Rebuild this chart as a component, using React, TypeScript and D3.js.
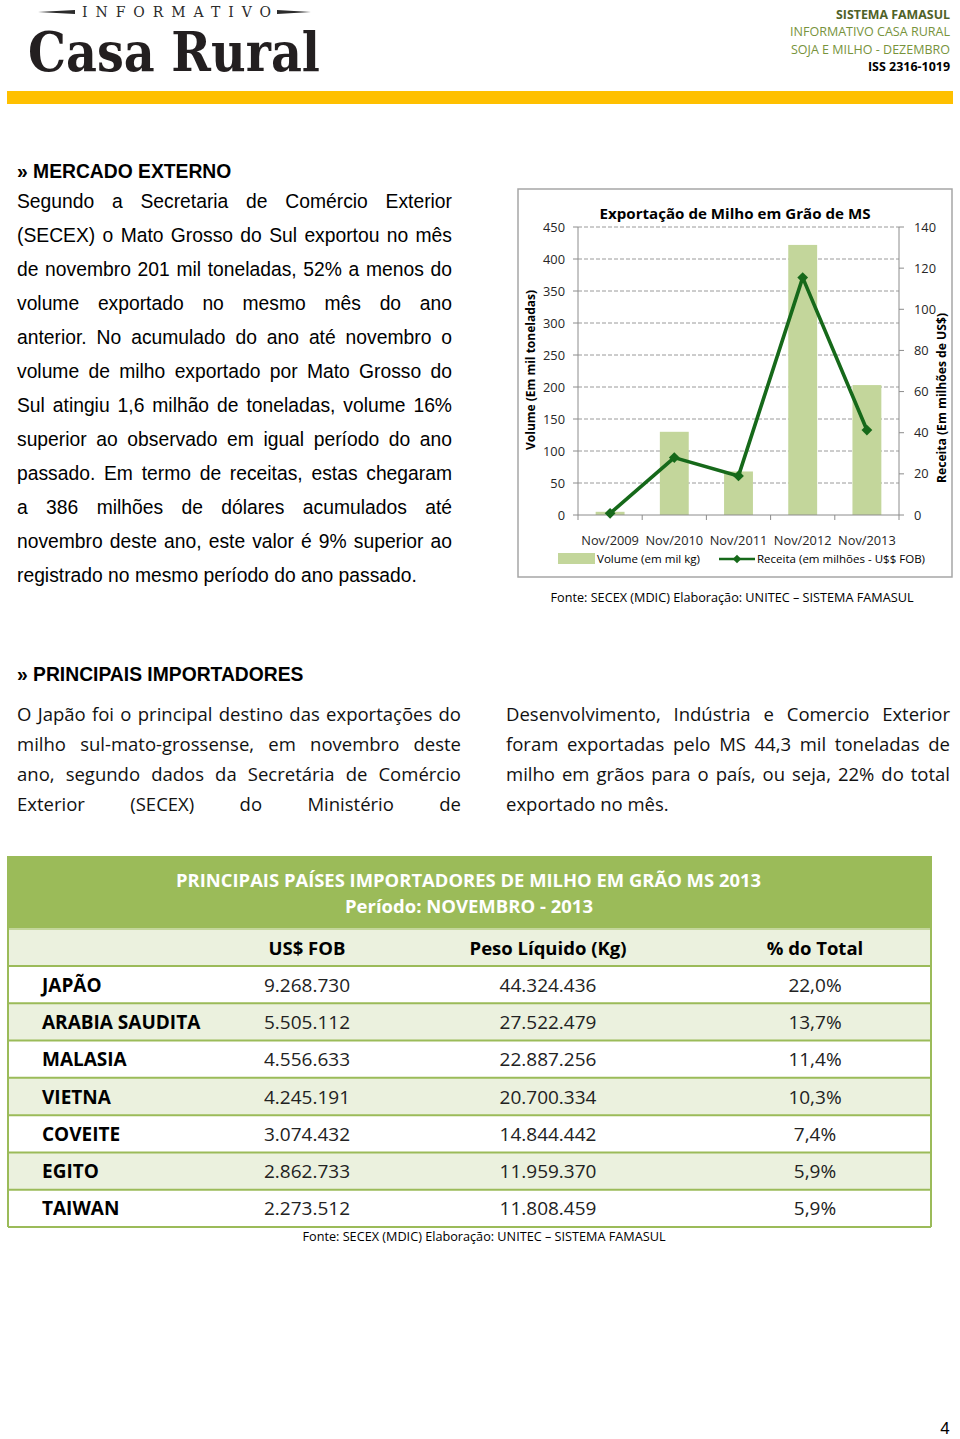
import React from 'react';
import * as d3 from 'd3';

// ---------- chart data ----------
const categories = ['Nov/2009', 'Nov/2010', 'Nov/2011', 'Nov/2012', 'Nov/2013'];
const volume = [5, 130, 68, 422, 203];
const receita = [0.8, 27.9, 19, 115.4, 41.3];
const volumeTicks = [0, 50, 100, 150, 200, 250, 300, 350, 400, 450];
const receitaTicks = [0, 20, 40, 60, 80, 100, 120, 140];

// ---------- table data ----------
const tableColumns = ['US$ FOB', 'Peso Líquido (Kg)', '% do Total'];
const countries = ['JAPÃO', 'ARABIA SAUDITA', 'MALASIA', 'VIETNA', 'COVEITE', 'EGITO', 'TAIWAN'];
const usFob = ['9.268.730', '5.505.112', '4.556.633', '4.245.191', '3.074.432', '2.862.733', '2.273.512'];
const pesoLiquido = ['44.324.436', '27.522.479', '22.887.256', '20.700.334', '14.844.442', '11.959.370', '11.808.459'];
const pctTotal = ['22,0%', '13,7%', '11,4%', '10,3%', '7,4%', '5,9%', '5,9%'];

// ---------- text ----------
const headerRight = ['SISTEMA FAMASUL', 'INFORMATIVO CASA RURAL', 'SOJA E MILHO - DEZEMBRO', 'ISS 2316-1019'];
const paragraph1 = [
  'Segundo a Secretaria de Comércio Exterior',
  '(SECEX) o Mato Grosso do Sul exportou no mês',
  'de novembro 201 mil toneladas, 52% a menos do',
  'volume exportado no mesmo mês do ano',
  'anterior. No acumulado do ano até novembro o',
  'volume de milho exportado por Mato Grosso do',
  'Sul atingiu 1,6 milhão de toneladas, volume 16%',
  'superior ao observado em igual período do ano',
  'passado. Em termo de receitas, estas chegaram',
  'a 386 milhões de dólares acumulados até',
  'novembro deste ano, este valor é 9% superior ao',
  'registrado no mesmo período do ano passado.',
];
const colLeft = [
  'O Japão foi o principal destino das exportações do',
  'milho sul-mato-grossense, em novembro deste',
  'ano, segundo dados da Secretária de Comércio',
  'Exterior (SECEX) do Ministério de',
];
const colRight = [
  'Desenvolvimento, Indústria e Comercio Exterior',
  'foram exportadas pelo MS 44,3 mil toneladas de',
  'milho em grãos para o país, ou seja, 22% do total',
  'exportado no mês.',
];
const fonte = 'Fonte: SECEX (MDIC) Elaboração: UNITEC – SISTEMA FAMASUL';

const ARIAL = 'Liberation Sans';
const CALIBRI = 'Open Sans';

let _ctx: CanvasRenderingContext2D | null = null;
function measure(text: string, font: string): number {
  if (!_ctx) _ctx = document.createElement('canvas').getContext('2d');
  if (!_ctx) return text.length * 8;
  _ctx.font = font;
  return _ctx.measureText(text).width;
}

function Justified(props: {
  text: string; x: number; y: number; width: number; size: number; family: string;
  weight?: number; fill?: string; justify?: boolean;
}) {
  const { text, x, y, width, size, family, weight = 400, fill = '#000', justify = true } = props;
  const words = text.split(' ');
  const font = `${weight} ${size}px "${family}"`;
  const ws = words.map((w) => measure(w, font));
  const total = d3.sum(ws);
  const gap = justify && words.length > 1 ? (width - total) / (words.length - 1) : measure(' ', font);
  let cx = x;
  return (
    <g fontFamily={family} fontSize={size} fontWeight={weight} fill={fill}>
      {words.map((w, i) => {
        const el = (
          <text key={i} x={cx} y={y}>
            {w}
          </text>
        );
        cx += ws[i] + gap;
        return el;
      })}
    </g>
  );
}

export default function App() {
  // chart scales
  const x = d3.scaleBand<string>().domain(categories).range([578, 899]).paddingInner(0.55).paddingOuter(0.275);
  const xb = d3.scaleBand<string>().domain(categories).range([578, 899]);
  const yL = d3.scaleLinear().domain([0, 450]).range([515, 227]);
  const yR = d3.scaleLinear().domain([0, 140]).range([515, 227]);
  const cx = (c: string) => (x(c) as number) + x.bandwidth() / 2;
  const linePath = d3
    .line<number>()
    .x((_, i) => cx(categories[i]))
    .y((d) => yR(d))(receita) as string;
  const diamond = d3.symbol().type(d3.symbolSquare).size(58)() as string;
  const legendDiamond = d3.symbol().type(d3.symbolSquare).size(36)() as string;
  const lineColor = '#16691a';
  const barColor = '#c3d69b';
  const boundaries = [...categories.map((c) => xb(c) as number), 899];

  // table scale
  const rowY = d3.scaleBand<string>().domain(countries).range([966, 1227]);
  const colX = [307, 548, 815];

  return (
    <div style={{ position: 'absolute', left: 0, top: 0, width: 960, height: 1439, background: '#fff' }}>
      <svg width={960} height={1439} style={{ display: 'block' }}>
        <rect x={0} y={0} width={960} height={1439} fill="#fff" />

        {/* ---------- header ---------- */}
        <polygon points="38,12 75,10 75,14" fill="#2b2b2b" />
        <polygon points="277,10 277,14 311,12" fill="#2b2b2b" />
        <text x={82} y={17} fontFamily="DejaVu Serif" fontSize={14} fill="#2b2b2b" textLength={189} lengthAdjust="spacing">
          INFORMATIVO
        </text>
        <text x={28} y={71} fontFamily="DejaVu Serif" fontWeight={700} fontSize={55} fill="#231f20" textLength={292} lengthAdjust="spacingAndGlyphs">
          Casa Rural
        </text>
        <g fontFamily={CALIBRI} fontSize={13} textAnchor="end">
          <text x={950} y={19} fontWeight={700} fill="#4f6228" textLength={114} lengthAdjust="spacingAndGlyphs">{headerRight[0]}</text>
          <text x={950} y={36} fill="#77933c" textLength={160} lengthAdjust="spacingAndGlyphs">{headerRight[1]}</text>
          <text x={950} y={54} fill="#77933c" textLength={159} lengthAdjust="spacingAndGlyphs">{headerRight[2]}</text>
          <text x={950} y={71} fontWeight={700} fill="#000" textLength={82} lengthAdjust="spacingAndGlyphs">{headerRight[3]}</text>
        </g>
        <rect x={7} y={91} width={946} height={13} fill="#ffc000" />

        {/* ---------- section 1 text ---------- */}
        <text x={17} y={178} fontFamily={ARIAL} fontWeight={700} fontSize={19.3} fill="#000">
          » MERCADO EXTERNO
        </text>
        {paragraph1.map((t, i) => (
          <Justified key={i} text={t} x={17} y={208 + 34 * i} width={435} size={19.3} family={ARIAL}
            justify={i < paragraph1.length - 1} />
        ))}

        {/* ---------- chart ---------- */}
        <rect x={518} y={189} width={434} height={388} fill="#fff" stroke="#a6a6a6" strokeWidth={1.5} />
        <text x={735} y={219} textAnchor="middle" fontFamily={CALIBRI} fontWeight={700} fontSize={15} fill="#000"
          textLength={271} lengthAdjust="spacingAndGlyphs">
          Exportação de Milho em Grão de MS
        </text>
        {/* gridlines */}
        {volumeTicks.filter((t) => t > 0).map((t) => (
          <line key={t} x1={578} x2={899} y1={yL(t)} y2={yL(t)} stroke="#9a9a9a" strokeWidth={1} strokeDasharray="4,2" />
        ))}
        {/* bars */}
        {categories.map((c, i) => (
          <rect key={c} x={x(c)} y={yL(volume[i])} width={x.bandwidth()} height={515 - yL(volume[i])} fill={barColor} />
        ))}
        {/* axes */}
        <g stroke="#8c8c8c" strokeWidth={1}>
          <line x1={578} x2={578} y1={227} y2={515} />
          <line x1={899} x2={899} y1={227} y2={515} />
          <line x1={578} x2={899} y1={515} y2={515} />
          {volumeTicks.map((t) => (
            <line key={'l' + t} x1={573} x2={578} y1={yL(t)} y2={yL(t)} />
          ))}
          {receitaTicks.map((t) => (
            <line key={'r' + t} x1={899} x2={904} y1={yR(t)} y2={yR(t)} />
          ))}
          {boundaries.map((b, i) => (
            <line key={'b' + i} x1={b} x2={b} y1={515} y2={520} />
          ))}
        </g>
        {/* line series */}
        <path d={linePath} fill="none" stroke={lineColor} strokeWidth={3.6} strokeLinejoin="round" />
        {receita.map((v, i) => (
          <path key={i} d={diamond} transform={`translate(${cx(categories[i])},${yR(v)}) rotate(45)`} fill={lineColor} />
        ))}
        {/* tick labels */}
        <g fontFamily={CALIBRI} fontSize={12.8} fill="#262626">
          {volumeTicks.map((t) => (
            <text key={t} x={565} y={yL(t) + 4.5} textAnchor="end">{t}</text>
          ))}
          {receitaTicks.map((t) => (
            <text key={t} x={914} y={yR(t) + 4.5}>{t}</text>
          ))}
          {categories.map((c) => (
            <text key={c} x={cx(c)} y={545} textAnchor="middle">{c}</text>
          ))}
        </g>
        <text transform="translate(535,370) rotate(-90)" textAnchor="middle" fontFamily={CALIBRI} fontWeight={700}
          fontSize={12.5} fill="#000" textLength={160} lengthAdjust="spacingAndGlyphs">
          Volume (Em mil toneladas)
        </text>
        <text transform="translate(946,398) rotate(-90)" textAnchor="middle" fontFamily={CALIBRI} fontWeight={700}
          fontSize={12.5} fill="#000" textLength={170} lengthAdjust="spacingAndGlyphs">
          Receita (Em milhões de US$)
        </text>
        {/* legend */}
        <rect x={558} y={553} width={37} height={11} fill={barColor} />
        <text x={597} y={563} fontFamily={CALIBRI} fontSize={11.5} fill="#000" textLength={103} lengthAdjust="spacingAndGlyphs">
          Volume (em mil kg)
        </text>
        <line x1={719} x2={755} y1={559} y2={559} stroke={lineColor} strokeWidth={2.5} />
        <path d={legendDiamond} transform="translate(737,559) rotate(45)" fill={lineColor} />
        <text x={757} y={563} fontFamily={CALIBRI} fontSize={11.5} fill="#000" textLength={168} lengthAdjust="spacingAndGlyphs">
          Receita (em milhões - U$$ FOB)
        </text>
        <text x={732} y={602} textAnchor="middle" fontFamily={CALIBRI} fontSize={12.5} fill="#000" textLength={363} lengthAdjust="spacingAndGlyphs">
          {fonte}
        </text>

        {/* ---------- section 2 ---------- */}
        <text x={17} y={681} fontFamily={ARIAL} fontWeight={700} fontSize={19.3} fill="#000">
          » PRINCIPAIS IMPORTADORES
        </text>
        {colLeft.map((t, i) => (
          <Justified key={'l' + i} text={t} x={17} y={721 + 30 * i} width={444} size={18.5} family={CALIBRI} fill="#111" />
        ))}
        {colRight.map((t, i) => (
          <Justified key={'r' + i} text={t} x={506} y={721 + 30 * i} width={444} size={18.5} family={CALIBRI} fill="#111"
            justify={i < colRight.length - 1} />
        ))}

        {/* ---------- table ---------- */}
        <rect x={8} y={856} width={923} height={73} fill="#9bbb59" />
        <rect x={8} y={929} width={923} height={37} fill="#ebf1de" />
        {countries.map((c, i) => (
          <rect key={c} x={8} y={rowY(c)} width={923} height={rowY.bandwidth()} fill={i % 2 === 1 ? '#ebf1de' : '#fff'} />
        ))}
        <g stroke="#9bbb59" strokeWidth={2}>
          <line x1={8} x2={931} y1={929} y2={929} stroke="#c3d69b" />
          <line x1={8} x2={931} y1={966} y2={966} />
          {countries.map((c) => (
            <line key={c} x1={8} x2={931} y1={(rowY(c) as number) + rowY.bandwidth()} y2={(rowY(c) as number) + rowY.bandwidth()} />
          ))}
          <line x1={8} x2={8} y1={856} y2={1227} />
          <line x1={931} x2={931} y1={856} y2={1227} />
        </g>
        <g fontFamily={CALIBRI} fontWeight={700} fill="#fff" textAnchor="middle" fontSize={17.5}>
          <text x={468.5} y={887} textLength={585} lengthAdjust="spacingAndGlyphs">
            PRINCIPAIS PAÍSES IMPORTADORES DE MILHO EM GRÃO MS 2013
          </text>
          <text x={469} y={913} textLength={248} lengthAdjust="spacingAndGlyphs">
            Período: NOVEMBRO - 2013
          </text>
        </g>
        <g fontFamily={CALIBRI} fontWeight={700} fill="#000" textAnchor="middle" fontSize={18.5}>
          {tableColumns.map((t, i) => (
            <text key={t} x={colX[i]} y={955}>{t}</text>
          ))}
        </g>
        <g fontFamily={CALIBRI} fontSize={19} fill="#000">
          {countries.map((c, i) => {
            const yy = (rowY(c) as number) + rowY.bandwidth() / 2 + 7;
            return (
              <g key={c}>
                <text x={42} y={yy} fontWeight={700}>{c}</text>
                <text x={colX[0]} y={yy} textAnchor="middle" fill="#222">{usFob[i]}</text>
                <text x={colX[1]} y={yy} textAnchor="middle" fill="#222">{pesoLiquido[i]}</text>
                <text x={colX[2]} y={yy} textAnchor="middle" fill="#222">{pctTotal[i]}</text>
              </g>
            );
          })}
        </g>
        <text x={484} y={1241} textAnchor="middle" fontFamily={CALIBRI} fontSize={12.5} fill="#000" textLength={363} lengthAdjust="spacingAndGlyphs">
          {fonte}
        </text>

        <text x={945} y={1434} textAnchor="middle" fontFamily={ARIAL} fontSize={17} fill="#000">4</text>
      </svg>
    </div>
  );
}
